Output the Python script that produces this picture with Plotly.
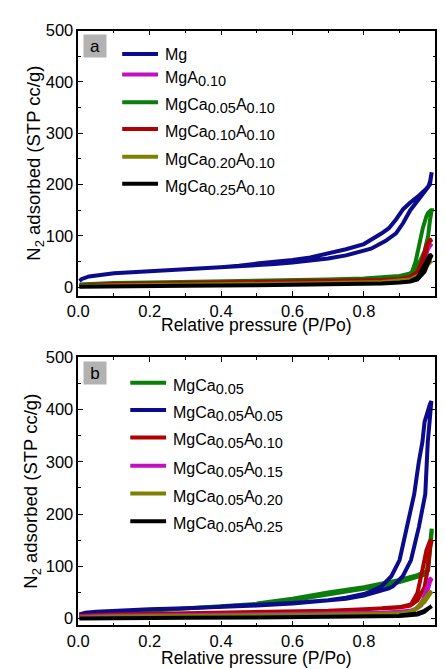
import plotly.graph_objects as go

W, H = 446, 669

# ---------------- Panel a data (relative pressure, volume adsorbed) -------------
MG_P = [0.003, 0.01, 0.03, 0.06, 0.1, 0.15, 0.2, 0.25, 0.3, 0.35, 0.4, 0.45, 0.5, 0.55, 0.6,
        0.65, 0.7, 0.75, 0.8, 0.82, 0.86, 0.89, 0.91, 0.93, 0.95, 0.97, 0.98, 0.985, 0.99,
        0.985, 0.975, 0.96, 0.95, 0.93, 0.91, 0.89, 0.87, 0.85, 0.82, 0.8, 0.75, 0.7, 0.65,
        0.6, 0.55, 0.5, 0.45, 0.4]
MG_V = [12, 16, 21, 24, 27, 29, 31, 33, 34, 36, 38, 40, 43, 45, 48,
        52, 56, 62, 71, 75, 90, 105, 125, 150, 168, 185, 195, 205, 224,
        200, 192, 182, 176, 165, 152, 132, 115, 105, 92, 84, 74, 66, 58,
        53, 50, 46, 42, 39]

MGA10_P = [0.003, 0.1, 0.3, 0.5, 0.7, 0.85, 0.9, 0.93, 0.95, 0.97, 0.98, 0.99,
           0.985, 0.975, 0.965, 0.95, 0.93, 0.9]
MGA10_V = [3, 5, 6, 8, 10, 12, 14, 18, 28, 55, 75, 85,
           83, 70, 50, 30, 18, 15]

CA05A10_P = [0.003, 0.05, 0.1, 0.2, 0.3, 0.4, 0.5, 0.6, 0.7, 0.8, 0.85, 0.9, 0.93, 0.95,
             0.97, 0.98, 0.985, 0.99, 0.988, 0.98, 0.975, 0.965, 0.955, 0.945, 0.935,
             0.92, 0.9, 0.85, 0.8]
CA05A10_V = [5, 7, 8, 9, 10, 11, 12, 14, 15, 17, 19, 22, 27, 40,
             70, 100, 130, 150, 150, 145, 138, 115, 80, 50, 30,
             22, 20, 18, 16]

CA10A10_P = [0.003, 0.1, 0.3, 0.5, 0.7, 0.85, 0.9, 0.93, 0.95, 0.97, 0.98, 0.99,
             0.985, 0.975, 0.965, 0.955, 0.94, 0.92]
CA10A10_V = [3, 6, 8, 10, 12, 14, 16, 20, 30, 60, 85, 93,
             92, 80, 55, 35, 22, 17]

CA20A10_P = [0.003, 0.1, 0.3, 0.5, 0.7, 0.85, 0.9, 0.93, 0.95, 0.97, 0.98, 0.99,
             0.985, 0.975, 0.96, 0.945]
CA20A10_V = [2, 4, 5, 6, 8, 10, 12, 15, 22, 35, 45, 52,
             50, 42, 28, 18]

CA25A10_P = [0.003, 0.1, 0.3, 0.5, 0.7, 0.85, 0.9, 0.93, 0.95, 0.97, 0.98, 0.99,
             0.985, 0.975, 0.96, 0.95, 0.93]
CA25A10_V = [1, 2, 3, 4, 5, 7, 9, 11, 15, 30, 48, 63,
             62, 50, 30, 18, 12]

# ---------------- Panel b data -------------
CA05_P = [0.003, 0.1, 0.2, 0.3, 0.4, 0.5, 0.55, 0.6, 0.7, 0.75, 0.8, 0.85, 0.9, 0.95,
          0.975, 0.98, 0.985, 0.99, 0.99, 0.985, 0.98, 0.95, 0.9, 0.8, 0.7, 0.6, 0.5]
CA05_V = [5, 11, 15, 19, 23, 27, 30, 35, 47, 52, 57, 62, 70, 80,
          85, 110, 150, 172, 165, 120, 92, 83, 74, 60, 50, 38, 29]

CA05A05_P = [0.003, 0.02, 0.05, 0.1, 0.2, 0.3, 0.4, 0.5, 0.6, 0.7, 0.75, 0.8, 0.85, 0.87,
             0.882, 0.909, 0.932, 0.954, 0.972, 0.975, 0.979, 0.984, 0.989,
             0.985, 0.978, 0.970, 0.964, 0.954, 0.941, 0.921, 0.90, 0.877, 0.85, 0.82,
             0.8, 0.75, 0.7, 0.6, 0.5, 0.4]
CA05A05_V = [8, 11, 13, 15, 18, 20, 22, 25, 29, 34, 38, 44, 53, 58,
             62, 81, 112, 175, 238, 300, 338, 376, 416,
             410, 395, 376, 338, 300, 238, 175, 112, 81, 62, 52,
             47, 40, 35, 30, 26, 23]

CA05A10B_P = [0.003, 0.1, 0.3, 0.5, 0.6, 0.7, 0.8, 0.9, 0.93, 0.95, 0.97, 0.98, 0.985, 0.99,
              0.985, 0.975, 0.964, 0.95, 0.932, 0.9, 0.85]
CA05A10B_V = [6, 8, 10, 12, 13, 15, 18, 21, 25, 35, 60, 100, 135, 150,
              148, 130, 93, 49, 27, 22, 20]

CA05A15_P = [0.003, 0.1, 0.3, 0.5, 0.7, 0.85, 0.9, 0.94, 0.96, 0.975, 0.985, 0.99,
             0.985, 0.975, 0.965, 0.95, 0.93]
CA05A15_V = [4, 6, 7, 8, 9, 11, 13, 16, 25, 45, 70, 77,
             75, 55, 35, 20, 15]

CA05A20_P = [0.003, 0.1, 0.3, 0.5, 0.7, 0.85, 0.9, 0.93, 0.95, 0.97, 0.98, 0.99,
             0.985, 0.97, 0.955, 0.94]
CA05A20_V = [2, 4, 5, 6, 7, 9, 10, 13, 20, 32, 42, 52,
             50, 38, 25, 16]

CA05A25_P = [0.003, 0.1, 0.3, 0.5, 0.7, 0.85, 0.9, 0.95, 0.97, 0.98, 0.99,
             0.985, 0.97, 0.95, 0.9]
CA05A25_V = [0, 1, 1.5, 2, 3, 4, 5, 8, 13, 19, 24,
             23, 15, 10, 6]

X_TICKS = [0.0, 0.2, 0.4, 0.6, 0.8, 1.0]
X_TICK_TEXT = ["0.0", "0.2", "0.4", "0.6", "0.8", "1.0"]
Y_TICKS = [0, 100, 200, 300, 400, 500]
Y_TICK_TEXT = ["0", "100", "200", "300", "400", "500"]

NAVY = "#0b0b8c"
MAGENTA = "#c010c0"
GREEN = "#0a7d0a"
RED = "#b00000"
OLIVE = "#808000"
BLACK = "#000000"


def s(t):
    return "<sub><span style='font-size:14.5px'>" + t + "</span></sub>"


LABELS_A = ["Mg", "MgA" + s("0.10"), "MgCa" + s("0.05") + "A" + s("0.10"),
            "MgCa" + s("0.10") + "A" + s("0.10"), "MgCa" + s("0.20") + "A" + s("0.10"),
            "MgCa" + s("0.25") + "A" + s("0.10")]
LABELS_B = ["MgCa" + s("0.05"), "MgCa" + s("0.05") + "A" + s("0.05"),
            "MgCa" + s("0.05") + "A" + s("0.10"), "MgCa" + s("0.05") + "A" + s("0.15"),
            "MgCa" + s("0.05") + "A" + s("0.20"), "MgCa" + s("0.05") + "A" + s("0.25")]

SERIES_A = [(MG_P, MG_V, NAVY), (MGA10_P, MGA10_V, MAGENTA), (CA05A10_P, CA05A10_V, GREEN),
            (CA10A10_P, CA10A10_V, RED), (CA20A10_P, CA20A10_V, OLIVE),
            (CA25A10_P, CA25A10_V, BLACK)]
SERIES_B = [(CA05_P, CA05_V, GREEN), (CA05A05_P, CA05A05_V, NAVY),
            (CA05A10B_P, CA05A10B_V, RED), (CA05A15_P, CA05A15_V, MAGENTA),
            (CA05A20_P, CA05A20_V, OLIVE), (CA05A25_P, CA05A25_V, BLACK)]

FONT = "Liberation Sans"


def px(x):
    return x / W


def py(y):
    return (H - y) / H


fig = go.Figure()
for (p, v, c), lab in zip(SERIES_A, LABELS_A):
    fig.add_trace(go.Scatter(x=p, y=v, mode="lines", line=dict(color=c, width=4),
                             name=lab, xaxis="x", yaxis="y", showlegend=False))
for (p, v, c), lab in zip(SERIES_B, LABELS_B):
    fig.add_trace(go.Scatter(x=p, y=v, mode="lines", line=dict(color=c, width=4),
                             name=lab, xaxis="x2", yaxis="y2", showlegend=False))

LEFT, RIGHT = 69, 435
PANELS = [dict(top=22, bottom=291.7, yr=[-17, 500], xt=321.2, yt=25),
          dict(top=354, bottom=626.7, yr=[-13, 500], xt=659.5, yt=22)]


def xaxis_cfg(anchor):
    return dict(domain=[px(LEFT), px(RIGHT)], range=[0, 1], anchor=anchor,
                tickvals=X_TICKS, ticktext=X_TICK_TEXT, ticks="inside", ticklen=5,
                tickwidth=1.3, tickcolor="black", showline=True, linecolor="black",
                linewidth=1.5, mirror="ticks", showgrid=False, zeroline=False,
                tickfont=dict(family=FONT, size=16.5, color="black"),
                minor=dict(ticks="inside", ticklen=3, dtick=0.1, tickwidth=1.1,
                           tickcolor="black", showgrid=False))


def yaxis_cfg(anchor, p):
    return dict(domain=[py(p["bottom"]), py(p["top"])], range=p["yr"], anchor=anchor,
                tickvals=Y_TICKS, ticktext=Y_TICK_TEXT, ticks="inside", ticklen=5,
                tickwidth=1.3, tickcolor="black", showline=True, linecolor="black",
                linewidth=1.5, mirror="ticks", showgrid=False, zeroline=False,
                tickfont=dict(family=FONT, size=16.5, color="black"),
                minor=dict(ticks="inside", ticklen=3, dtick=50, tickwidth=1.1,
                           tickcolor="black", showgrid=False))


fig.update_layout(
    width=W, height=H, margin=dict(l=0, r=0, t=0, b=0),
    paper_bgcolor="white", plot_bgcolor="white",
    xaxis=xaxis_cfg("y"), yaxis=yaxis_cfg("x", PANELS[0]),
    xaxis2=xaxis_cfg("y2"), yaxis2=yaxis_cfg("x2", PANELS[1]),
    font=dict(family=FONT, size=16, color="black"),
)

ann = []
shapes = []
# axis titles
for p in PANELS:
    ann.append(dict(text="Relative pressure (P/Po)", x=px((LEFT + RIGHT) / 2),
                    y=py(p["xt"]), xref="paper", yref="paper",
                    xanchor="center", yanchor="middle", showarrow=False,
                    font=dict(family=FONT, size=17.5, color="black")))
    ann.append(dict(text="N<sub>2</sub> adsorbed (STP cc/g)", x=px(p["yt"]),
                    y=py((p["top"] + p["bottom"]) / 2), xref="paper", yref="paper",
                    xanchor="center", yanchor="middle", textangle=-90, showarrow=False,
                    font=dict(family=FONT, size=18.5, color="black")))

# panel letters
for letter, cy in [("a", 38), ("b", 370)]:
    ann.append(dict(text=letter, x=px(86), y=py(cy), xref="paper", yref="paper",
                    xanchor="center", yanchor="middle", showarrow=False,
                    width=18, height=18, bgcolor="#b2b2b2", borderpad=2,
                    font=dict(family=FONT, size=17, color="black")))

# legends
LEG_A_ROWS = [45.7, 66.7, 94.7, 122, 150.3, 177.7]
LEG_B_ROWS = [380, 407.7, 435.7, 464.3, 492.7, 520.7]
for rows, series, labels, x0, x1, xt in [(LEG_A_ROWS, SERIES_A, LABELS_A, 114, 150.7, 156),
                                         (LEG_B_ROWS, SERIES_B, LABELS_B, 122.3, 159, 164.3)]:
    for r, (_, _, c), lab in zip(rows, series, labels):
        shapes.append(dict(type="line", xref="paper", yref="paper", x0=px(x0), x1=px(x1),
                           y0=py(r), y1=py(r), line=dict(color=c, width=4)))
        off = 4 if "<sub>" in lab else 1
        ann.append(dict(text=lab, x=px(xt), y=py(r + off), xref="paper", yref="paper",
                        xanchor="left", yanchor="middle", showarrow=False,
                        font=dict(family=FONT, size=16, color="black")))

fig.update_layout(annotations=ann, shapes=shapes)
fig.write_html("out.html", config={"displayModeBar": False},
               post_script="document.body.style.margin='0';"
               "document.body.style.overflow='hidden';")
